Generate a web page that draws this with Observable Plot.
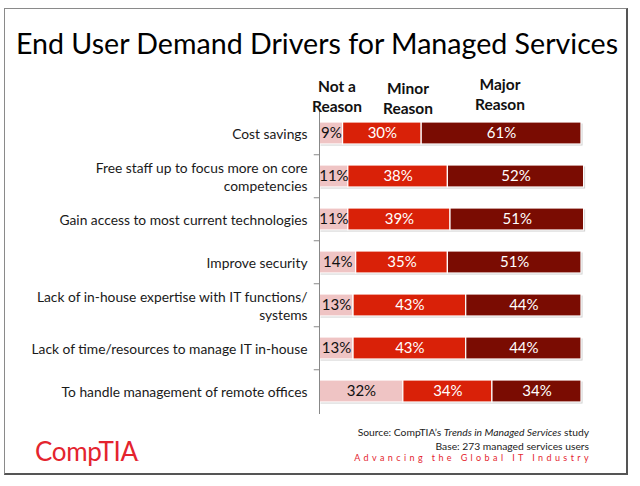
<!DOCTYPE html>
<html>
<head>
<meta charset="utf-8">
<script src="https://cdn.jsdelivr.net/npm/d3@7"></script>
<script src="https://cdn.jsdelivr.net/npm/@observablehq/plot@0.6"></script>
<style>
  html, body { margin: 0; padding: 0; background: #fff; }
  body { width: 640px; height: 486px; position: relative; overflow: hidden; font-family: Lato, "Noto Sans", sans-serif; }
  #frame { position: absolute; left: 4px; top: 8px; width: 624px; height: 467px; border: 1px solid #8a8a8a; border-right: 2px solid #555; border-bottom: 2px solid #555; box-sizing: border-box; }
  #title { position: absolute; left: 0; width: 634px; top: 26px; text-align: center; font-size: 28.6px; color: #000; white-space: nowrap; }
  .hdr { position: absolute; font-weight: bold; font-size: 15.5px; color: #111; text-align: center; line-height: 20px; width: 90px; }
  #chart { position: absolute; left: 0; top: 0; }
  #logo { position: absolute; left: 35px; top: 435px; font-size: 26px; color: #e4242e; letter-spacing: -0.3px; }
  #src { position: absolute; right: 51px; top: 425px; font-size: 10.3px; color: #222; text-align: right; line-height: 14px; }
  #tag { position: absolute; right: 48px; top: 452px; font-size: 9px; color: #e4242e; letter-spacing: 3.4px; }
</style>
</head>
<body>
<div id="frame"></div>
<div id="chart"></div>
<div id="title">End User Demand Drivers for Managed Services</div>
<div class="hdr" style="left:292px; top:76px;">Not a<br>Reason</div>
<div class="hdr" style="left:363px; top:78px;">Minor<br>Reason</div>
<div class="hdr" style="left:455px; top:74px;">Major<br>Reason</div>
<div id="logo">CompTIA<span style="font-size:6px;vertical-align:baseline;">.</span></div>
<div id="src">Source: CompTIA’s <i>Trends in Managed Services</i> study<br>Base: 273 managed services users</div>
<div id="tag">Advancing the Global IT Industry</div>
<script>
const categories = [
  "Cost savings",
  "Free staff up to focus more on core\ncompetencies",
  "Gain access to most current technologies",
  "Improve security",
  "Lack of in-house expertise with IT functions/\nsystems",
  "Lack of time/resources to manage IT in-house",
  "To handle management of remote offices"
];
const series = ["Not a Reason", "Minor Reason", "Major Reason"];
const notAReason = [9, 11, 11, 14, 13, 13, 32];
const minorReason = [30, 38, 39, 35, 43, 43, 34];
const majorReason = [61, 52, 51, 51, 44, 44, 34];
const colors = ["#efc4c4", "#d92108", "#7a0c02"];
const textColors = ["#111", "#fff", "#fff"];

const values = [notAReason, minorReason, majorReason];
const data = [];
series.forEach((s, si) => categories.forEach((c, ci) => data.push({cat: c, type: s, value: values[si][ci]})));
const totals = categories.map((c, i) => ({cat: c, total: notAReason[i] + minorReason[i] + majorReason[i]}));

const chart = Plot.plot({
  width: 640,
  height: 486,
  marginLeft: 319,
  marginRight: 59,
  marginTop: 109,
  marginBottom: 72,
  style: {fontFamily: "Lato, 'Noto Sans', sans-serif", background: "transparent"},
  x: {domain: [0, 100], axis: null},
  y: {domain: categories, axis: null, paddingInner: 0.494, paddingOuter: 0.247},
  color: {domain: series, range: colors},
  marks: [
    Plot.barX(totals, {x: "total", y: "cat", fill: "#b8b8b8", fillOpacity: 0.7, dx: 1.5, dy: 1.5}),
    Plot.barX(data, Plot.stackX({x: "value", y: "cat", fill: "type", order: series, stroke: "#fff", strokeWidth: 1.2})),
    Plot.textX(data, Plot.stackX({x: "value", y: "cat", z: "type", order: series, text: d => d.value + "%",
      fill: d => textColors[series.indexOf(d.type)], fontSize: 15})),
    Plot.ruleX([0], {stroke: "#888", strokeWidth: 1}),
    Plot.ruleY(categories.slice(1), {y: d => d, x1: -2, x2: 0, dy: -21.75, stroke: "#888"}),
    Plot.text(categories, {x: () => 0, y: d => d, text: d => d, textAnchor: "end", dx: -12,
      fontSize: 13.8, lineHeight: 1.25, fill: "#1a1a1a"})
  ]
});
document.getElementById("chart").appendChild(chart);
</script>
</body>
</html>
